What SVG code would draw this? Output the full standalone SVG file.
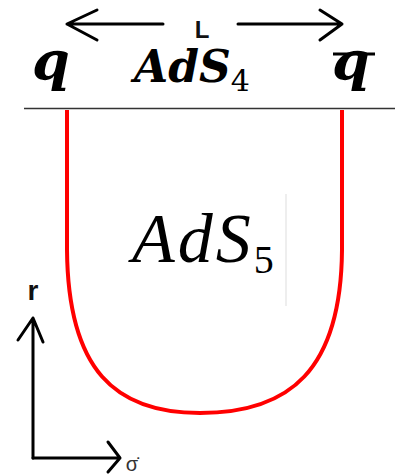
<svg xmlns="http://www.w3.org/2000/svg" width="395" height="475" viewBox="0 0 395 475">
<style>
.arr{fill:none;stroke:#000;stroke-width:3;stroke-linecap:round;stroke-linejoin:round}
.bi{font-family:"DejaVu Serif","Liberation Serif",serif;font-weight:bold;font-style:italic;fill:#000}
.lab{font-family:"Liberation Sans",Arial,sans-serif;fill:#111;text-anchor:middle}
</style>
<rect width="395" height="475" fill="#fff"/>
<g id="connectors">
<path id="L-left" class="arr" d="M163,24 H67 M97,10 L67,24 L97,40"/>
<path id="L-right" class="arr" d="M238,24 H342 M320,10 L342,24 L320,40"/>
<path id="boundary" d="M24,108.5 H395" stroke="#333" stroke-width="1.5" fill="none"/>
<path id="string" d="M67,110 V250 C68,370 115,413 200,413 C290,413 341,370 342,250 V110" fill="none" stroke="#f00" stroke-width="4"/>
<path id="r-axis" class="arr" d="M33,458 V318 M18,340 L33,318 L43,342"/>
<path id="s-axis" class="arr" d="M33,458 H120 M108,442 L120,458 L108,472"/>
<line x1="286" y1="194" x2="286" y2="306" stroke="#ddd" stroke-width="1"/>
</g>
<g id="L"><text class="lab" x="202" y="38" style="font-size:24px;font-weight:bold">L</text></g>
<g id="q"><text class="bi" x="32" y="80" font-size="54">q</text></g>
<g id="ads4"><text class="bi" x="134" y="82" font-size="44">AdS<tspan font-size="30" dy="9" font-style="normal" font-weight="normal">4</tspan></text></g>
<g id="qbar"><text class="bi" x="332" y="80" font-size="54">q</text><line x1="333" y1="54" x2="375" y2="54" stroke="#000" stroke-width="3"/></g>
<g id="ads5"><text x="132" y="262" font-family="'Liberation Serif',serif" font-style="italic" font-size="70" letter-spacing="3" fill="#000">AdS<tspan font-size="40" dy="11" font-style="normal" letter-spacing="0">5</tspan></text></g>
<g id="r"><text class="lab" x="33" y="300" style="font-size:28px;font-weight:bold">r</text></g>
<g id="sigma"><text class="lab" x="132" y="471" style="font-size:20px;fill:#333">σ̇</text></g>
</svg>
